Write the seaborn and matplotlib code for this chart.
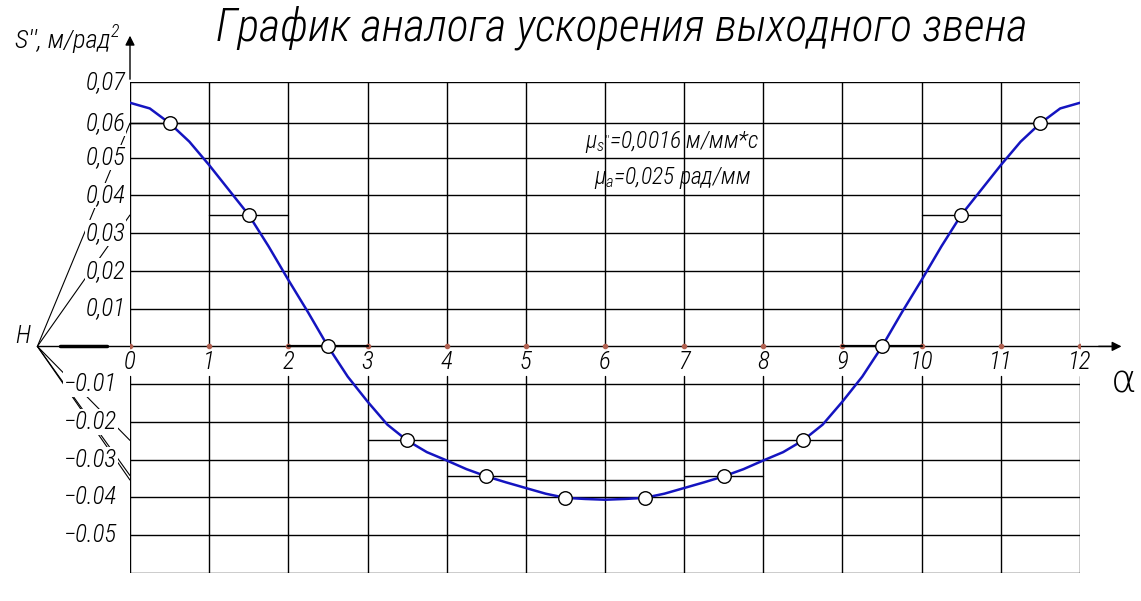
import matplotlib
matplotlib.use("Agg")
import matplotlib.pyplot as plt
from matplotlib import font_manager
import seaborn as sns

# curve of the acceleration analogue, every quarter step
alpha = [0, 0.25, 0.5, 0.75, 1, 1.25, 1.5, 1.75, 2, 2.25, 2.5, 2.75, 3, 3.25, 3.5, 3.75,
         4, 4.25, 4.5, 4.75, 5, 5.25, 5.5, 5.75, 6, 6.25, 6.5, 6.75, 7, 7.25, 7.5, 7.75,
         8, 8.25, 8.5, 8.75, 9, 9.25, 9.5, 9.75, 10, 10.25, 10.5, 10.75, 11, 11.25, 11.5, 11.75, 12]
s2 = [0.0645, 0.063, 0.0591, 0.0542, 0.048, 0.0414, 0.0348, 0.0265, 0.0176, 0.009, 0.0, -0.008,
      -0.0146, -0.0207, -0.0249, -0.028, -0.0302, -0.0325, -0.0344, -0.036, -0.0375, -0.039,
      -0.0401, -0.0404, -0.0406, -0.0404, -0.0401, -0.039, -0.0375, -0.036, -0.0344, -0.0325,
      -0.0302, -0.028, -0.0249, -0.0207, -0.0146, -0.008, 0.0, 0.009, 0.0176, 0.0265, 0.0348,
      0.0414, 0.048, 0.0542, 0.0591, 0.063, 0.0645]

# marked points at the middle of each interval
circle_x = [0.5, 1.5, 2.5, 3.5, 4.5, 5.5, 6.5, 7.5, 8.5, 9.5, 10.5, 11.5]
circle_y = [0.0591, 0.0348, 0.0, -0.0249, -0.0344, -0.0401, -0.0401, -0.0344, -0.0249, 0.0, 0.0348, 0.0591]

# horizontal steps of the graphical integration
step_left = [0, 1, 2, 3, 4, 5, 7, 8, 9, 10, 11]
step_right = [1, 2, 3, 4, 5, 7, 8, 9, 10, 11, 12]
step_level = [0.0591, 0.0348, 0.0, -0.0249, -0.0342, -0.0354, -0.0342, -0.0249, 0.0, 0.0348, 0.0591]

# rays from the pole H
pole_x = -1.17
pole_levels = [0.0591, 0.0348, -0.0249, -0.0342, -0.0354]

x_ticks = [0, 1, 2, 3, 4, 5, 6, 7, 8, 9, 10, 11, 12]
y_grid = [0.07, 0.0591, 0.05, 0.04, 0.03, 0.02, 0.01, -0.01, -0.02, -0.03, -0.04, -0.05, -0.06]
y_pos_ticks = [0.07, 0.0591, 0.05, 0.04, 0.03, 0.02, 0.01]
y_pos_labels = ['0,07', '0,06', '0,05', '0,04', '0,03', '0,02', '0,01']
y_neg_ticks = [-0.01, -0.02, -0.03, -0.04, -0.05]
y_neg_labels = ['\u22120.01', '\u22120.02', '\u22120.03', '\u22120.04', '\u22120.05']

sns.set_style("white")
names = {f.name for f in font_manager.fontManager.ttflist}
narrow = [n for n in ['Liberation Sans Narrow', 'Roboto Condensed', 'DejaVu Sans Condensed',
                      'Open Sans Condensed', 'Roboto', 'Liberation Sans'] if n in names]
main_font = narrow[0] if narrow else 'DejaVu Sans'
plt.rcParams['font.family'] = [main_font, 'DejaVu Sans']
plt.rcParams['font.style'] = 'italic'
plt.rcParams['font.weight'] = 'light'
plt.rcParams['text.color'] = 'black'
plt.rcParams['mathtext.fontset'] = 'custom'
plt.rcParams['mathtext.rm'] = main_font + ':italic'
plt.rcParams['mathtext.it'] = main_font + ':italic'

fig = plt.figure(figsize=(11.41, 6.01), dpi=100)
ax = fig.add_axes([130 / 1141, 28 / 601, 950 / 1141, 491 / 601])
ax.set_xlim(0, 12)
ax.set_ylim(-0.06, 0.07)
ax.axis('off')

lc = 'black'
# grid
for xv in x_ticks:
    ax.plot([xv, xv], [0, 0.07], color=lc, lw=1, zorder=1)
    ax.plot([xv, xv], [-0.0078, -0.06], color=lc, lw=1, zorder=1)
for yv in y_grid:
    ax.plot([0, 12], [yv, yv], color=lc, lw=1, zorder=1)

# axes with arrows
ax.plot([pole_x, 12.4], [0, 0], color=lc, lw=1, clip_on=False, zorder=2)
ax.plot([-0.88, -0.29], [0, 0], color=lc, lw=2.5, clip_on=False, zorder=2)
ax.annotate('', xy=(12.56, 0), xytext=(12.2, 0), annotation_clip=False,
            arrowprops=dict(arrowstyle='-|>', color=lc, lw=1, mutation_scale=14))
ax.annotate('', xy=(0, 0.083), xytext=(0, 0.07), annotation_clip=False,
            arrowprops=dict(arrowstyle='-|>', color=lc, lw=1, mutation_scale=14))
ax.plot(x_ticks, [0] * len(x_ticks), 'o', ms=3, color='#b06050', zorder=2)

# rays from pole
for lv in pole_levels:
    ax.plot([pole_x, 0], [0, lv], color=lc, lw=0.8, clip_on=False, zorder=1)

# steps
for a, b, lv in zip(step_left, step_right, step_level):
    ax.plot([a, b], [lv, lv], color=lc, lw=1.6 if lv == 0 else 1, zorder=2)

# curve and points
sns.lineplot(x=alpha, y=s2, ax=ax, color='#1414c0', lw=1.8, zorder=3)
sns.scatterplot(x=circle_x, y=circle_y, ax=ax, s=95, facecolor='white',
                edgecolor='black', linewidth=1, zorder=5)

box = dict(facecolor='white', edgecolor='none', pad=0.5)
for xv in x_ticks:
    ax.text(xv, -0.0042, str(xv), ha='center', va='center', fontsize=18, zorder=4)
for yv, lab in zip(y_pos_ticks, y_pos_labels):
    ax.text(-0.06, yv, lab, ha='right', va='center', fontsize=18, bbox=box, zorder=4, clip_on=False)
for yv, lab in zip(y_neg_ticks, y_neg_labels):
    ax.text(-0.16, yv, lab, ha='right', va='center', fontsize=18, bbox=box, zorder=4, clip_on=False)

ax.text(-1.36, 0.0028, 'H', ha='center', va='center', fontsize=18)
ax.text(12.55, -0.0093, '\u03b1', ha='center', va='center', fontsize=28, style='normal',
        family='DejaVu Sans')

fig.text(15 / 1141, 1 - 48 / 601, "S'', м/рад", fontsize=19, ha='left', va='baseline')
fig.text(111 / 1141, 1 - 37 / 601, "2", fontsize=13, ha='left', va='baseline')

fig.text(0.545, 1 - 40 / 601, 'График аналога ускорения выходного звена',
         fontsize=33, ha='center', va='baseline')

ax.text(6.85, 0.054, r"$\mu_{s''}$=0,0016 м/мм*с", ha='center', va='center', fontsize=17)
ax.text(6.85, 0.0447, r"$\mu_{a}$=0,025 рад/мм", ha='center', va='center', fontsize=17)

fig.savefig('out.png', dpi=100, facecolor='white')
